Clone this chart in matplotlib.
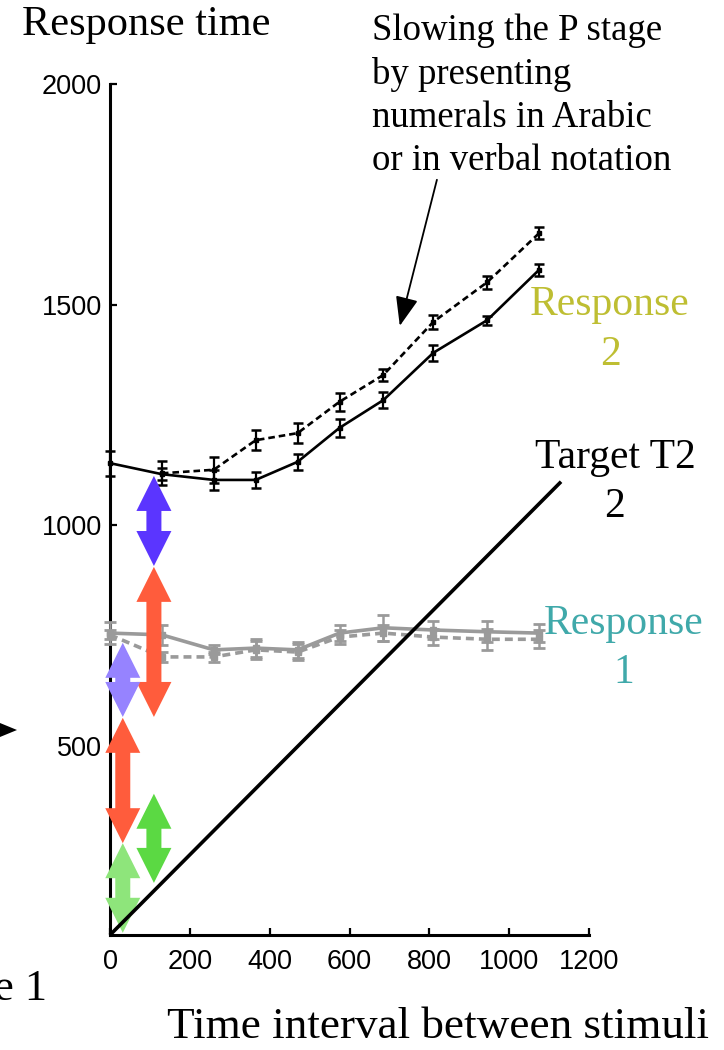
import matplotlib.pyplot as plt
from matplotlib.patches import Polygon


plt.rcParams.update(
    {
        "font.family": ["Liberation Serif", "DejaVu Serif"],
        "figure.facecolor": "white",
        "axes.facecolor": "white",
    }
)

W, H = 724, 1050
TICK_FONT = ["Liberation Sans Narrow", "Liberation Sans", "DejaVu Sans"]

# stimulus onset asynchronies (ms)
soa = [130, 260, 365, 470, 575, 685, 810, 945, 1075]

# response 2 (black), two notations
rt2_solid_x = [0] + soa
rt2_solid = [1141, 1116, 1103, 1103, 1144, 1221, 1284, 1391, 1465, 1579]
rt2_solid_err = [28, 14, 22, 19, 18, 20, 19, 18, 10, 13]
rt2_dashed_x = soa
rt2_dashed = [1118, 1126, 1193, 1209, 1280, 1341, 1461, 1551, 1662]
rt2_dashed_err = [27, 29, 23, 23, 20, 13, 16, 15, 14]

# response 1 (grey), two notations
rt1_x = [0] + soa
rt1_solid = [756, 752, 718, 722, 718, 756, 768, 763, 759, 756]
rt1_solid_err = [25, 22, 10, 20, 18, 18, 29, 20, 24, 20]
rt1_dashed = [752, 702, 702, 718, 713, 747, 756, 747, 742, 742]
rt1_dashed_err = [10, 12, 12, 20, 18, 15, 18, 18, 24, 20]

# onset of target T2
target_x = [0, 1130]
target_y = [72, 1099]

# processing stage durations drawn as double arrows
stage_x = [110, 110, 32, 32, 32, 110]
stage_lo = [908, 566, 566, 280, 77, 190]
stage_hi = [1112, 906, 734, 564, 280, 392]
stage_colors = ["#5b35ff", "#ff5c3c", "#9683ff", "#ff5c3c", "#8ee57b", "#5bd943"]

x_ticks = [0, 200, 400, 600, 800, 1000, 1200]
y_ticks = [500, 1000, 1500, 2000]


def fx(px):
    return px / W


def fy(py):
    return 1 - py / H


def double_arrow(ax, x, y0, y1, color, sx, sy, head=35, half=17.5, shaft=7.5):
    hl = head / sy
    hw = half / sx
    sw = shaft / sx
    pts = [
        (x, y1),
        (x + hw, y1 - hl),
        (x + sw, y1 - hl),
        (x + sw, y0 + hl),
        (x + hw, y0 + hl),
        (x, y0),
        (x - hw, y0 + hl),
        (x - sw, y0 + hl),
        (x - sw, y1 - hl),
        (x - hw, y1 - hl),
    ]
    ax.add_patch(Polygon(pts, closed=True, fc=color, ec="none", zorder=4, clip_on=False))


fig = plt.figure(figsize=(W / 100, H / 100), dpi=100)
ax = fig.add_axes([fx(110), fy(935), fx(589) - fx(110), fy(84) - fy(935)])
ax.set_xlim(0, 1200)
ax.set_ylim(72, 2000)

for side in ("top", "right"):
    ax.spines[side].set_visible(False)
for side in ("left", "bottom"):
    ax.spines[side].set_linewidth(2.2)

ax.set_xticks(x_ticks)
ax.set_yticks(y_ticks)
ax.tick_params(direction="in", length=5, width=1.6, labelsize=19.5)
ax.tick_params(axis="x", pad=10)
ax.tick_params(axis="y", pad=6)
for lab in ax.get_xticklabels() + ax.get_yticklabels():
    lab.set_family(TICK_FONT)

ax.errorbar(rt1_x, rt1_solid, yerr=rt1_solid_err, color="#9a9a9a", lw=2.6,
            marker="s", ms=4.5, capsize=4, elinewidth=1.8, capthick=2, zorder=3, clip_on=False)
ax.errorbar(rt1_x, rt1_dashed, yerr=rt1_dashed_err, color="#9a9a9a", lw=2.6, ls=(0, (2.2, 1.4)),
            marker="s", ms=4.5, capsize=4, elinewidth=1.8, capthick=2, zorder=3, clip_on=False)
ax.errorbar(rt2_solid_x, rt2_solid, yerr=rt2_solid_err, color="black", lw=1.9,
            marker="s", ms=3, capsize=3.5, elinewidth=1.6, capthick=1.8, zorder=3, clip_on=False)
ax.errorbar(rt2_dashed_x, rt2_dashed, yerr=rt2_dashed_err, color="black", lw=1.9, ls=(0, (2.5, 1.5)),
            marker="s", ms=3, capsize=3.5, elinewidth=1.6, capthick=1.8, zorder=3, clip_on=False)

bbox = ax.get_window_extent()
sx = bbox.width / 1200
sy = bbox.height / (2000 - 72)
for x, lo, hi, c in zip(stage_x, stage_lo, stage_hi, stage_colors):
    double_arrow(ax, x, lo, hi, c, sx, sy)

ax.plot(target_x, target_y, color="black", lw=2.6, solid_capstyle="butt", zorder=5, clip_on=False)

ax.annotate("", xy=(726, 1452), xytext=(819, 1783),
            arrowprops=dict(arrowstyle="-|>,head_length=0.9,head_width=0.35", color="black",
                            lw=1.3, mutation_scale=20, shrinkA=0, shrinkB=0))

# multi-line labels are anchored on the baseline of their last line
fig.text(fx(22), fy(25), "Response time", fontsize=30.5, va="center", ha="left")
fig.text(fx(372), fy(170),
         "Slowing the P stage\nby presenting\nnumerals in Arabic\nor in verbal notation",
         fontsize=26.5, va="baseline", ha="left", linespacing=1.32)
fig.text(fx(610), fy(365), "Response\n2", fontsize=30, color="#bebe32",
         va="baseline", ha="center", multialignment="center", linespacing=1.4)
fig.text(fx(615), fy(517), "Target T2\n2", fontsize=30, color="black",
         va="baseline", ha="center", multialignment="center", linespacing=1.36)
fig.text(fx(624), fy(683), "Response\n1", fontsize=30, color="#40a9aa",
         va="baseline", ha="center", multialignment="center", linespacing=1.36)
fig.text(fx(438), fy(1038), "Time interval between stimuli", fontsize=32.5,
         va="baseline", ha="center")
fig.text(fx(-6), fy(1000), "e 1", fontsize=32, va="baseline", ha="left")

fig.patches.append(plt.Polygon([(fx(0), fy(723)), (fx(17), fy(730)), (fx(0), fy(737))],
                               closed=True, fc="black", ec="none", transform=fig.transFigure))

fig.savefig("out.png", dpi=100)
